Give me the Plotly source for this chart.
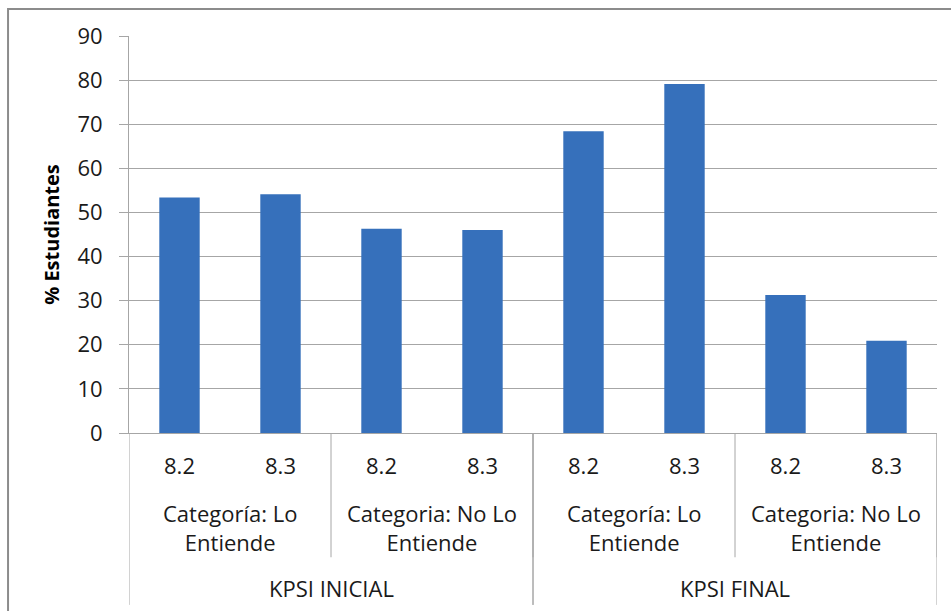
import plotly.graph_objects as go

# ---- data ----
kpsi = ["KPSI INICIAL", "KPSI INICIAL", "KPSI INICIAL", "KPSI INICIAL",
        "KPSI FINAL", "KPSI FINAL", "KPSI FINAL", "KPSI FINAL"]
categoria = ["Categoría: Lo<br>Entiende", "Categoría: Lo<br>Entiende",
             "Categoria: No Lo<br>Entiende", "Categoria: No Lo<br>Entiende",
             "Categoría: Lo<br>Entiende", "Categoría: Lo<br>Entiende",
             "Categoria: No Lo<br>Entiende", "Categoria: No Lo<br>Entiende"]
items = ["8.2", "8.3", "8.2", "8.3", "8.2", "8.3", "8.2", "8.3"]
values = [53.4, 54.1, 46.3, 46.0, 68.4, 79.1, 31.3, 20.9]
y_ticks = [0, 10, 20, 30, 40, 50, 60, 70, 80, 90]

FONT = "Open Sans"
TXT = "#1a1a1a"
GRID = "#a6a6a6"
FS = 22

x = list(range(len(values)))

fig = go.Figure(go.Bar(
    x=x, y=values, width=0.4,
    marker=dict(color="#3670bb", line=dict(width=0)),
))

# group runs helper
def runs(labels):
    out = []
    start = 0
    for i in range(1, len(labels) + 1):
        if i == len(labels) or labels[i] != labels[start]:
            out.append((labels[start], start, i - 1))
            start = i
    return out

annotations = []
shapes = []
# level 2: categories
cat_runs = []
for k_lbl, ks, ke in runs(kpsi):
    for c_lbl, cs, ce in runs(categoria[ks:ke + 1]):
        cat_runs.append((c_lbl, cs + ks, ce + ks))
for lbl, s, e in cat_runs:
    annotations.append(dict(x=(s + e) / 2, y=-0.237, xref="x", yref="paper",
                            text=lbl, showarrow=False, yanchor="middle",
                            font=dict(family=FONT, size=FS, color=TXT)))
    shapes.append(dict(type="line", xref="x", yref="paper", x0=e + 0.5, x1=e + 0.5,
                       y0=0, y1=-0.313, line=dict(color=GRID, width=1)))
# level 3: kpsi
for lbl, s, e in runs(kpsi):
    annotations.append(dict(x=(s + e) / 2, y=-0.390, xref="x", yref="paper",
                            text=lbl, showarrow=False, yanchor="middle",
                            font=dict(family=FONT, size=FS, color=TXT)))
    for xb in (s - 0.5, e + 0.5):
        shapes.append(dict(type="line", xref="x", yref="paper", x0=xb, x1=xb,
                           y0=0, y1=-0.433, line=dict(color=GRID, width=1)))

# chart border
shapes.append(dict(type="rect", xref="paper", yref="paper",
                   x0=-0.1497, x1=1.2, y0=-0.7, y1=1.068,
                   line=dict(color="#8c8c8c", width=2), layer="below"))

fig.update_layout(
    width=951, height=611,
    margin=dict(l=129, r=14, t=36, b=178),
    paper_bgcolor="white", plot_bgcolor="white",
    showlegend=False,
    font=dict(family=FONT, size=FS, color=TXT),
    xaxis=dict(range=[-0.5, len(values) - 0.5], tickvals=x, ticktext=items,
               showgrid=False, zeroline=False, showline=True, linecolor=GRID,
               ticks="", tickfont=dict(family=FONT, size=FS, color=TXT),
               ticklabelstandoff=14),
    yaxis=dict(range=[0, 90], tickvals=y_ticks, showgrid=True, gridcolor=GRID,
               gridwidth=1, zeroline=False, showline=True, linecolor=GRID,
               ticks="outside", ticklen=9, tickcolor=GRID,
               tickfont=dict(family=FONT, size=FS, color=TXT),
               ticklabelstandoff=12,
               title=dict(text="<b>% Estudiantes</b>", standoff=12,
                          font=dict(family=FONT, size=20, color="#000000"))),
    annotations=annotations,
    shapes=shapes,
)

fig.write_html("out.html")
